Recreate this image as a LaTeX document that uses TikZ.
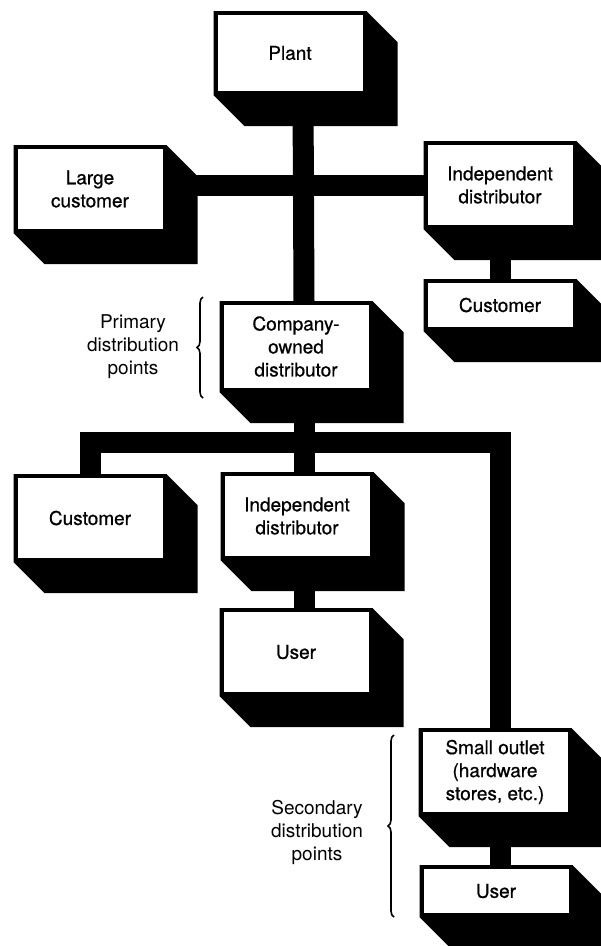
\documentclass[tikz,border=0pt]{standalone}
\usepackage{fontspec}
\setmainfont{TeX Gyre Heros}
\newfontfamily\boxfont[FakeBold=0.7]{TeX Gyre Heros}
\usetikzlibrary{backgrounds,decorations.pathreplacing}

\tikzset{
  face/.style={draw, line width=4pt, fill=white, inner sep=0pt,
    minimum width=149pt, minimum height=84pt, align=center,
    font=\boxfont\fontsize{19}{23}\selectfont},
  low/.style={minimum height=48pt},
  bar/.style={line width=21pt, line join=miter},
  side/.style={align=center, font=\fontsize{19}{23}\selectfont},
  bracket/.style={decorate, decoration={brace, amplitude=6pt}, line width=1.6pt}
}

\begin{document}
\begin{tikzpicture}[x=1pt, y=-1pt]
		\useasboundingbox (0,0) rectangle (601,946);
		
		\node[face, minimum height=80pt] (plant) at (290,53) {Plant};
		\node[face] (large) at (90,189) {Large\\customer};
		\node[face] (indtop) at (500,185) {Independent\\distributor};
		\node[face, low] (custR) at (500,305) {Customer};
		\node[face, minimum height=87pt] (company) at (296,346.5) {Company-\\owned\\distributor};
		\node[face] (custL) at (90,518) {Customer};
		\node[face] (indlow) at (297,516) {Independent\\distributor};
		\node[face] (usermid) at (296,652) {User};
		\node[face] (small) at (495,772) {Small outlet\\(hardware\\stores, etc.)};
		\node[face, low] (userlow) at (496,891) {User};
		
		\node[side] (primary) at (133,347) {Primary\\distribution\\points};
		\node[side] (secondary) at (317,832) {Secondary\\distribution\\points};
		
		% solid sides of the blocks
		\begin{scope}[on background layer]
			\foreach \n in {plant,large,indtop,custR,company,custL,indlow,usermid,small,userlow}
				\fill (\n.north west) -- (\n.north east) -- ([shift={(31,31)}]\n.north east)
					-- ([shift={(31,31)}]\n.south east) -- ([shift={(31,31)}]\n.south west)
					-- (\n.south west) -- cycle;
		\end{scope}
		
		\coordinate (fork) at (304,442);
		
		\draw[bar] ([xshift=13pt]plant.south) -- ([xshift=8pt]company.north);
		\draw[bar] (large.east |- indtop.west) -- (indtop.west);
		\draw[bar] (indtop.south) -- (custR.north);
		\draw[bar] ([xshift=8pt]company.south) -- ([xshift=7pt]indlow.north);
		\draw[bar] (custL.north) |- (fork) -| ([xshift=5pt]small.north);
		\draw[bar] ([xshift=7pt]indlow.south) -- ([xshift=8pt]usermid.north);
		\draw[bar] ([xshift=5pt]small.south) -- ([xshift=4pt]userlow.north);
		
		\draw[bracket] (203,398) -- (203,297);
		\draw[bracket] (394,917) -- (394,735);
	\end{tikzpicture}
\end{document}
